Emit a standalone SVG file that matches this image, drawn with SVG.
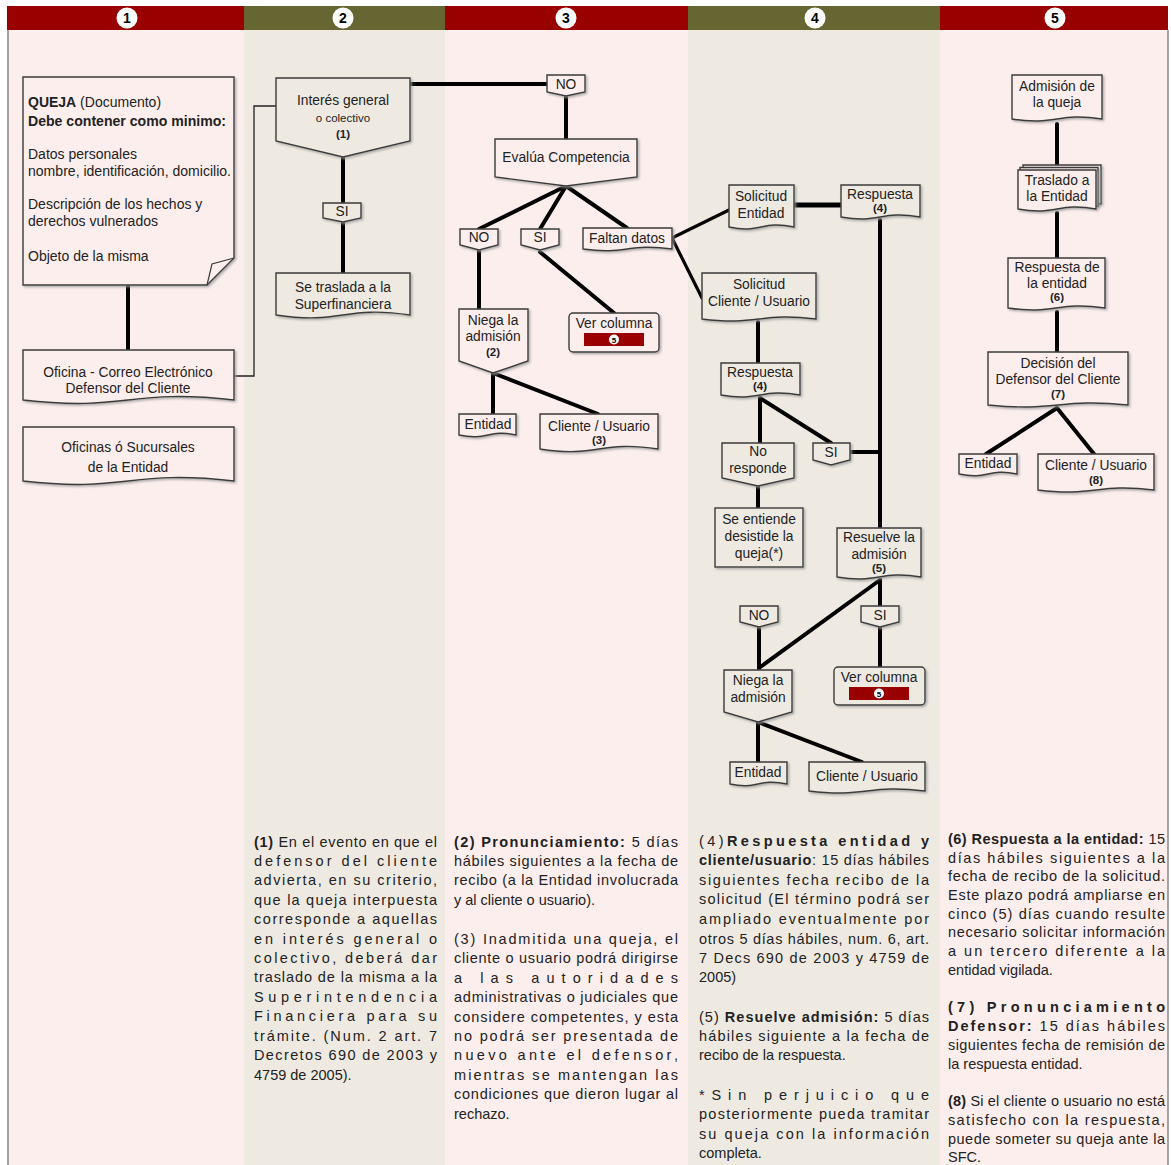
<svg xmlns="http://www.w3.org/2000/svg" width="1171" height="1165" viewBox="0 0 1171 1165">
<style>
.pk{fill:#FDEEEE}
.bg{fill:#EEEAE2}
.n{stroke:#3a3a3a;stroke-width:1.4;filter:url(#sh)}
.np{fill:#FDEEEE}
.nb{fill:#EEEAE2}
.t{font-family:"Liberation Sans",Arial,sans-serif;font-size:13.8px;fill:#222;text-anchor:middle}
.ts{font-size:11.5px}
.q{font-family:"Liberation Sans",Arial,sans-serif;font-size:14px;fill:#222}
.b{font-weight:bold}
.c{stroke:#000;stroke-width:4;fill:none;stroke-linecap:round}
.p{font-family:"Liberation Sans",Arial,sans-serif;font-size:14.5px;fill:#222}
.hn{font-family:"Liberation Sans",Arial,sans-serif;font-size:14px;font-weight:bold;fill:#000;text-anchor:middle}
.vb{fill:#990000}
.v5{font-family:"Liberation Sans",Arial,sans-serif;font-size:8px;font-weight:bold;fill:#000;text-anchor:middle}
</style>
<defs>
<filter id="sh" x="-10%" y="-10%" width="130%" height="130%">
<feDropShadow dx="1.5" dy="1.5" stdDeviation="0.8" flood-color="#999" flood-opacity="0.8"/>
</filter>
</defs>
<rect x="0" y="0" width="1171" height="1165" fill="#fff"/>
<g id="background">
<rect class="pk" x="7" y="30" width="237" height="1135"/>
<rect class="bg" x="244" y="30" width="201" height="1135"/>
<rect class="pk" x="445" y="30" width="243" height="1135"/>
<rect class="bg" x="688" y="30" width="252" height="1135"/>
<rect class="pk" x="940" y="30" width="228" height="1135"/>
<rect x="7" y="6" width="237" height="24" fill="#990000"/>
<rect x="244" y="6" width="201" height="24" fill="#666633"/>
<rect x="445" y="6" width="243" height="24" fill="#990000"/>
<rect x="688" y="6" width="252" height="24" fill="#666633"/>
<rect x="940" y="6" width="228" height="24" fill="#990000"/>
<line x1="8" y1="30" x2="8" y2="1165" stroke="#888" stroke-width="1.5"/>
<line x1="1168" y1="30" x2="1168" y2="1165" stroke="#888" stroke-width="1.5"/>
<circle cx="127" cy="18" r="10.5" fill="#fff"/><text class="hn" x="127" y="23">1</text>
<circle cx="343" cy="18" r="10.5" fill="#fff"/><text class="hn" x="343" y="23">2</text>
<circle cx="566" cy="18" r="10.5" fill="#fff"/><text class="hn" x="566" y="23">3</text>
<circle cx="815" cy="18" r="10.5" fill="#fff"/><text class="hn" x="815" y="23">4</text>
<circle cx="1055" cy="18" r="10.5" fill="#fff"/><text class="hn" x="1055" y="23">5</text>
</g>
<g id="connectors">
<line class="c" x1="128" y1="285" x2="128" y2="350"/>
<polyline points="234,376 254,376 254,106 277,106" fill="none" stroke="#222" stroke-width="1.3"/>
<line class="c" x1="410" y1="84" x2="547" y2="84"/>
<line class="c" x1="343" y1="157" x2="343" y2="203"/>
<line class="c" x1="343" y1="222" x2="343" y2="273"/>
<line class="c" x1="566" y1="96" x2="566" y2="139"/>
<line class="c" x1="566" y1="186" x2="479" y2="229"/>
<line class="c" x1="566" y1="186" x2="540" y2="229"/>
<line class="c" x1="566" y1="186" x2="627" y2="228"/>
<line class="c" x1="479" y1="250" x2="479" y2="309"/>
<line class="c" x1="540" y1="252" x2="614" y2="313"/>
<line class="c" x1="672" y1="238" x2="729" y2="210" style="stroke-width:3.2"/>
<line class="c" x1="672" y1="238" x2="702" y2="298" style="stroke-width:3.2"/>
<line class="c" x1="493" y1="373" x2="493" y2="414"/>
<line class="c" x1="493" y1="373" x2="598" y2="414"/>
<line class="c" x1="794" y1="205" x2="841" y2="205" style="stroke-width:5"/>
<line class="c" x1="880" y1="220" x2="880" y2="528"/>
<line class="c" x1="758" y1="322" x2="758" y2="363"/>
<line class="c" x1="760" y1="398" x2="760" y2="443"/>
<line class="c" x1="760" y1="398" x2="831" y2="443"/>
<line class="c" x1="850" y1="452" x2="880" y2="452"/>
<line class="c" x1="758" y1="486" x2="758" y2="508"/>
<line class="c" x1="880" y1="580" x2="880" y2="606"/>
<line class="c" x1="880" y1="580" x2="759" y2="668"/>
<line class="c" x1="759" y1="627" x2="759" y2="670"/>
<line class="c" x1="880" y1="627" x2="880" y2="667"/>
<line class="c" x1="758" y1="722" x2="758" y2="762"/>
<line class="c" x1="758" y1="722" x2="862" y2="762"/>
<line class="c" x1="1057" y1="124" x2="1057" y2="165"/>
<line class="c" x1="1057" y1="213" x2="1057" y2="258"/>
<line class="c" x1="1057" y1="312" x2="1057" y2="352"/>
<line class="c" x1="1057" y1="408" x2="986" y2="454"/>
<line class="c" x1="1057" y1="408" x2="1094" y2="454"/>
</g>
<g id="queja">
<path class="n np" d="M23,77 H234 V258 L207,285 H23 Z"/>
<path d="M207,285 L212,264 L234,258" fill="none" stroke="#3a3a3a" stroke-width="1.2"/>
<text class="q" x="28" y="107"><tspan class="b">QUEJA</tspan> (Documento)</text>
<text class="q b" x="28" y="126" textLength="198" lengthAdjust="spacingAndGlyphs">Debe contener como minimo:</text>
<text class="q" x="28" y="159">Datos personales</text>
<text class="q" x="28" y="176" textLength="203" lengthAdjust="spacingAndGlyphs">nombre, identificación, domicilio.</text>
<text class="q" x="28" y="209">Descripción de los hechos y</text>
<text class="q" x="28" y="226">derechos vulnerados</text>
<text class="q" x="28" y="261">Objeto de la misma</text>
</g>
<g id="oficina">
<path class="n np" d="M23,350 H234 V400 C128,388 128,412 23,400 Z"/>
<text class="t" x="128" y="377">Oficina - Correo Electrónico</text>
<text class="t" x="128" y="393">Defensor del Cliente</text>
</g>
<g id="sucursales">
<path class="n np" d="M23,427 H234 V481 C128,469 128,493 23,481 Z"/>
<text class="t" x="128" y="452">Oficinas ó Sucursales</text>
<text class="t" x="128" y="472">de la Entidad</text>
</g>
<g id="interes">
<path class="n nb" d="M276,78 H410 V141 L343,157 L276,141 Z"/>
<text class="t" x="343" y="105">Interés general</text>
<text class="t ts" x="343" y="122">o colectivo</text>
<text class="t b ts" x="343" y="138">(1)</text>
</g>
<g id="si2">
<path class="n nb" d="M323,203 H361 V218 L343,222 L323,218 Z"/>
<text class="t" x="342" y="216">SI</text>
</g>
<g id="superfinanciera">
<path class="n nb" d="M276,273 H410 V315 C343,305 343,325 276,315 Z"/>
<text class="t" x="343" y="292">Se traslada a la</text>
<text class="t" x="343" y="309">Superfinanciera</text>
</g>
<g id="no3a">
<path class="n np" d="M547,75 H585 V92 L566,96 L547,92 Z"/>
<text class="t" x="566" y="89">NO</text>
</g>
<g id="evalua">
<path class="n np" d="M495,139 H637 V177 L566,186 L495,177 Z"/>
<text class="t" x="566" y="162">Evalúa Competencia</text>
</g>
<g id="no3b">
<path class="n np" d="M460,229 H498 V245 L479,250 L460,245 Z"/>
<text class="t" x="479" y="242">NO</text>
</g>
<g id="si3">
<path class="n np" d="M521,229 H559 V245 L540,250 L521,245 Z"/>
<text class="t" x="540" y="242">SI</text>
</g>
<g id="faltan">
<path class="n np" d="M583,228 H672 V249 C627,243 627,255 583,249 Z"/>
<text class="t" x="627" y="243">Faltan datos</text>
</g>
<g id="niega3">
<path class="n np" d="M459,309 H528 V361 L493,373 L459,361 Z"/>
<text class="t" x="493" y="325">Niega la</text>
<text class="t" x="493" y="341">admisión</text>
<text class="t b ts" x="493" y="356">(2)</text>
</g>
<g id="ver3">
<rect class="n np" x="569" y="313" width="90" height="39" rx="4"/>
<text class="t" x="614" y="328">Ver columna</text>
<rect class="vb" x="584" y="333" width="60" height="13"/>
<circle cx="614" cy="339.5" r="5" fill="#fff"/>
<text class="v5" x="614" y="342.5">5</text>
</g>
<g id="entidad3">
<path class="n np" d="M459,414 H516 V435 C488,429 488,441 459,435 Z"/>
<text class="t" x="488" y="429">Entidad</text>
</g>
<g id="cliente3">
<path class="n np" d="M540,414 H658 V449 C599,440 599,458 540,449 Z"/>
<text class="t" x="599" y="431">Cliente / Usuario</text>
<text class="t b ts" x="599" y="444">(3)</text>
</g>
<g id="solent">
<path class="n nb" d="M729,185 H794 V227 C761,220 761,234 729,227 Z"/>
<text class="t" x="761" y="201">Solicitud</text>
<text class="t" x="761" y="218">Entidad</text>
</g>
<g id="resp4a">
<path class="n nb" d="M841,185 H920 V217 C880,210 880,224 841,217 Z"/>
<text class="t" x="880" y="199">Respuesta</text>
<text class="t b ts" x="880" y="212">(4)</text>
</g>
<g id="solcli">
<path class="n nb" d="M702,273 H816 V319 C759,312 759,326 702,319 Z"/>
<text class="t" x="759" y="289">Solicitud</text>
<text class="t" x="759" y="306">Cliente / Usuario</text>
</g>
<g id="resp4b">
<path class="n nb" d="M721,363 H800 V395 C760,388 760,402 721,395 Z"/>
<text class="t" x="760" y="377">Respuesta</text>
<text class="t b ts" x="760" y="390">(4)</text>
</g>
<g id="noresp">
<path class="n nb" d="M722,443 H794 V478 L758,486 L722,478 Z"/>
<text class="t" x="758" y="456">No</text>
<text class="t" x="758" y="473">responde</text>
</g>
<g id="si4a">
<path class="n nb" d="M813,443 H850 V460 L831,465 L813,460 Z"/>
<text class="t" x="831" y="457">SI</text>
</g>
<g id="seentiende">
<rect class="n nb" x="715" y="508" width="88" height="59"/>
<text class="t" x="759" y="524">Se entiende</text>
<text class="t" x="759" y="541">desistide la</text>
<text class="t" x="759" y="558">queja(*)</text>
</g>
<g id="resuelve">
<path class="n nb" d="M837,528 H921 V577 C879,570 879,584 837,577 Z"/>
<text class="t" x="879" y="542">Resuelve la</text>
<text class="t" x="879" y="559">admisión</text>
<text class="t b ts" x="879" y="572">(5)</text>
</g>
<g id="no4">
<path class="n nb" d="M740,606 H778 V622 L759,627 L740,622 Z"/>
<text class="t" x="759" y="620">NO</text>
</g>
<g id="si4b">
<path class="n nb" d="M861,606 H899 V622 L880,627 L861,622 Z"/>
<text class="t" x="880" y="620">SI</text>
</g>
<g id="ver4">
<rect class="n nb" x="834" y="667" width="91" height="38" rx="4"/>
<text class="t" x="879" y="682">Ver columna</text>
<rect class="vb" x="849" y="687" width="60" height="13"/>
<circle cx="879" cy="693.5" r="5" fill="#fff"/>
<text class="v5" x="879" y="696.5">5</text>
</g>
<g id="niega4">
<path class="n nb" d="M724,670 H792 V712 L758,722 L724,712 Z"/>
<text class="t" x="758" y="685">Niega la</text>
<text class="t" x="758" y="702">admisión</text>
</g>
<g id="entidad4">
<path class="n nb" d="M730,762 H787 V784 C758,778 758,790 730,784 Z"/>
<text class="t" x="758" y="777">Entidad</text>
</g>
<g id="cliente4">
<path class="n nb" d="M809,762 H925 V791 C867,784 867,798 809,791 Z"/>
<text class="t" x="867" y="781">Cliente / Usuario</text>
</g>
<g id="admision">
<path class="n np" d="M1012,75 H1102 V119 C1057,112 1057,126 1012,119 Z"/>
<text class="t" x="1057" y="91">Admisión de</text>
<text class="t" x="1057" y="107">la queja</text>
</g>
<g id="traslado">
<path class="n np" d="M1023,165 H1101 V204 C1062,197 1062,211 1023,204 Z"/>
<path class="n np" d="M1020,167.5 H1098 V206.5 C1059,199.5 1059,213.5 1020,206.5 Z"/>
<path class="n np" d="M1018,170 H1096 V209 C1057,202 1057,216 1018,209 Z"/>
<text class="t" x="1057" y="185">Traslado a</text>
<text class="t" x="1057" y="201">la Entidad</text>
</g>
<g id="respent">
<path class="n np" d="M1008,258 H1105 V308 C1056,301 1056,315 1008,308 Z"/>
<text class="t" x="1057" y="272">Respuesta de</text>
<text class="t" x="1057" y="288">la entidad</text>
<text class="t b ts" x="1057" y="301">(6)</text>
</g>
<g id="decision">
<path class="n np" d="M988,352 H1128 V405 C1058,398 1058,412 988,405 Z"/>
<text class="t" x="1058" y="368">Decisión del</text>
<text class="t" x="1058" y="384">Defensor del Cliente</text>
<text class="t b ts" x="1058" y="398">(7)</text>
</g>
<g id="entidad5">
<path class="n np" d="M959,454 H1017 V474 C988,468 988,480 959,474 Z"/>
<text class="t" x="988" y="468">Entidad</text>
</g>
<g id="cliente5">
<path class="n np" d="M1038,454 H1154 V490 C1096,483 1096,497 1038,490 Z"/>
<text class="t" x="1096" y="470">Cliente / Usuario</text>
<text class="t b ts" x="1096" y="484">(8)</text>
</g>
<g id="notas">
<text class="p" x="254" y="847" textLength="183" lengthAdjust="spacing"><tspan class="b">(1)</tspan> En el evento en que el</text>
<text class="p" x="254" y="866" textLength="183" lengthAdjust="spacing">defensor del cliente</text>
<text class="p" x="254" y="885" textLength="183" lengthAdjust="spacing">advierta, en su criterio,</text>
<text class="p" x="254" y="905" textLength="183" lengthAdjust="spacing">que la queja interpuesta</text>
<text class="p" x="254" y="924" textLength="183" lengthAdjust="spacing">corresponde a aquellas</text>
<text class="p" x="254" y="944" textLength="183" lengthAdjust="spacing">en interés general o</text>
<text class="p" x="254" y="963" textLength="183" lengthAdjust="spacing">colectivo, deberá dar</text>
<text class="p" x="254" y="982" textLength="183" lengthAdjust="spacing">traslado de la misma a la</text>
<text class="p" x="254" y="1002" textLength="183" lengthAdjust="spacing">Superintendencia</text>
<text class="p" x="254" y="1021" textLength="183" lengthAdjust="spacing">Financiera para su</text>
<text class="p" x="254" y="1041" textLength="183" lengthAdjust="spacing">trámite. (Num. 2 art. 7</text>
<text class="p" x="254" y="1060" textLength="183" lengthAdjust="spacing">Decretos 690 de 2003 y</text>
<text class="p" x="254" y="1080">4759 de 2005).</text>

<text class="p" x="454" y="847" textLength="224" lengthAdjust="spacing"><tspan class="b">(2) Pronunciamiento:</tspan> 5 días</text>
<text class="p" x="454" y="866" textLength="224" lengthAdjust="spacing">hábiles siguientes a la fecha de</text>
<text class="p" x="454" y="885" textLength="224" lengthAdjust="spacing">recibo (a la Entidad involucrada</text>
<text class="p" x="454" y="905">y al cliente o usuario).</text>
<text class="p" x="454" y="944" textLength="224" lengthAdjust="spacing">(3) Inadmitida una queja, el</text>
<text class="p" x="454" y="963" textLength="224" lengthAdjust="spacing">cliente o usuario podrá dirigirse</text>
<text class="p" x="454" y="983" textLength="224" lengthAdjust="spacing">a las autoridades</text>
<text class="p" x="454" y="1002" textLength="224" lengthAdjust="spacing">administrativas o judiciales que</text>
<text class="p" x="454" y="1022" textLength="224" lengthAdjust="spacing">considere competentes, y esta</text>
<text class="p" x="454" y="1041" textLength="224" lengthAdjust="spacing">no podrá ser presentada de</text>
<text class="p" x="454" y="1060" textLength="224" lengthAdjust="spacing">nuevo ante el defensor,</text>
<text class="p" x="454" y="1080" textLength="224" lengthAdjust="spacing">mientras se mantengan las</text>
<text class="p" x="454" y="1099" textLength="224" lengthAdjust="spacing">condiciones que dieron lugar al</text>
<text class="p" x="454" y="1119">rechazo.</text>

<text class="p" x="699" y="846" textLength="230" lengthAdjust="spacing">(4)<tspan class="b">Respuesta entidad y</tspan></text>
<text class="p" x="699" y="865" textLength="230" lengthAdjust="spacing"><tspan class="b">cliente/usuario</tspan>: 15 días hábiles</text>
<text class="p" x="699" y="885" textLength="230" lengthAdjust="spacing">siguientes fecha recibo de la</text>
<text class="p" x="699" y="904" textLength="230" lengthAdjust="spacing">solicitud (El término podrá ser</text>
<text class="p" x="699" y="924" textLength="230" lengthAdjust="spacing">ampliado eventualmente por</text>
<text class="p" x="699" y="944" textLength="230" lengthAdjust="spacing">otros 5 días hábiles, num. 6, art.</text>
<text class="p" x="699" y="963" textLength="230" lengthAdjust="spacing">7 Decs 690 de 2003 y 4759 de</text>
<text class="p" x="699" y="982">2005)</text>
<text class="p" x="699" y="1022" textLength="230" lengthAdjust="spacing">(5) <tspan class="b">Resuelve admisión:</tspan> 5 días</text>
<text class="p" x="699" y="1041" textLength="230" lengthAdjust="spacing">hábiles siguiente a la fecha de</text>
<text class="p" x="699" y="1060">recibo de la respuesta.</text>
<text class="p" x="699" y="1100" textLength="230" lengthAdjust="spacing">*Sin perjuicio que</text>
<text class="p" x="699" y="1119" textLength="230" lengthAdjust="spacing">posteriormente pueda tramitar</text>
<text class="p" x="699" y="1139" textLength="230" lengthAdjust="spacing">su queja con la información</text>
<text class="p" x="699" y="1158">completa.</text>

<text class="p" x="948" y="844" textLength="217" lengthAdjust="spacing"><tspan class="b">(6) Respuesta a la entidad:</tspan> 15</text>
<text class="p" x="948" y="863" textLength="217" lengthAdjust="spacing">días hábiles siguientes a la</text>
<text class="p" x="948" y="881" textLength="217" lengthAdjust="spacing">fecha de recibo de la solicitud.</text>
<text class="p" x="948" y="900" textLength="217" lengthAdjust="spacing">Este plazo podrá ampliarse en</text>
<text class="p" x="948" y="919" textLength="217" lengthAdjust="spacing">cinco (5) días cuando resulte</text>
<text class="p" x="948" y="937" textLength="217" lengthAdjust="spacing">necesario solicitar información</text>
<text class="p" x="948" y="956" textLength="217" lengthAdjust="spacing">a un tercero diferente a la</text>
<text class="p" x="948" y="975">entidad vigilada.</text>
<text class="p b" x="948" y="1012" textLength="217" lengthAdjust="spacing">(7) Pronunciamiento</text>
<text class="p" x="948" y="1031" textLength="217" lengthAdjust="spacing"><tspan class="b">Defensor:</tspan> 15 días hábiles</text>
<text class="p" x="948" y="1050" textLength="217" lengthAdjust="spacing">siguientes fecha de remisión de</text>
<text class="p" x="948" y="1069">la respuesta entidad.</text>
<text class="p" x="948" y="1106" textLength="217" lengthAdjust="spacing"><tspan class="b">(8)</tspan> Si el cliente o usuario no está</text>
<text class="p" x="948" y="1125" textLength="217" lengthAdjust="spacing">satisfecho con la respuesta,</text>
<text class="p" x="948" y="1144" textLength="217" lengthAdjust="spacing">puede someter su queja ante la</text>
<text class="p" x="948" y="1162">SFC.</text>
</g>
</svg>
